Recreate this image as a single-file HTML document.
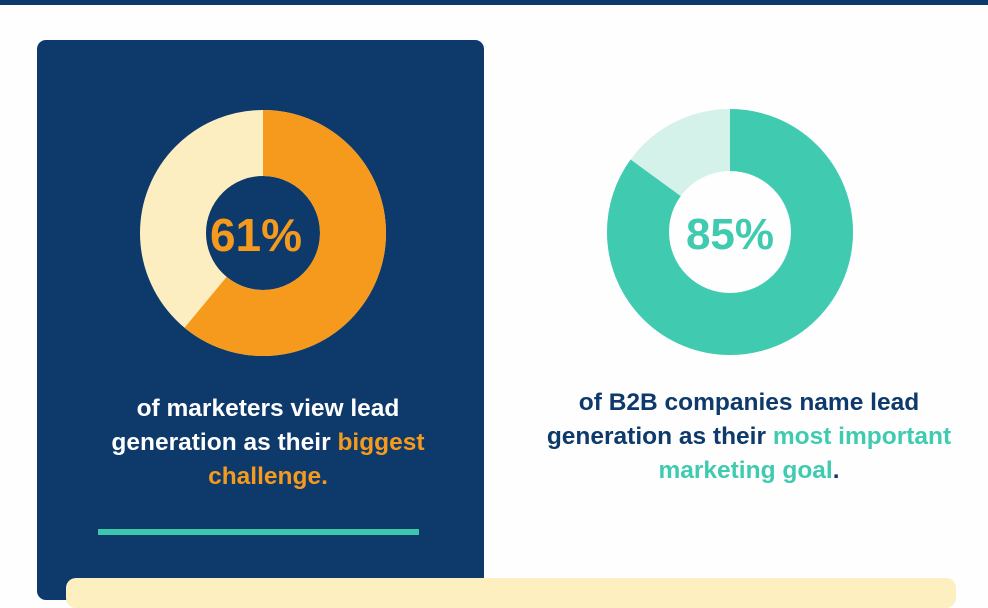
<!DOCTYPE html>
<html><head><style>
body{margin:0;width:988px;height:585px;overflow:hidden;background:#fefefe;position:relative;font-family:"Liberation Sans",sans-serif}
.top{position:absolute;left:0;top:0;width:988px;height:5px;background:#0e3a6b}
.card{position:absolute;left:37px;top:40px;width:447px;height:560px;background:#0d396b;border-radius:9px}
.line{position:absolute;left:98px;top:529px;width:321px;height:6px;background:#3cc7ad}
.yel{position:absolute;left:66px;top:578px;width:890px;height:30px;background:#fdefc0;border-radius:10px}
.t{position:absolute;text-align:center;font-size:24.5px;line-height:34px;font-weight:bold;letter-spacing:0}
</style></head><body>
<div class="top"></div>
<div class="card"></div>
<svg width="988" height="585" style="position:absolute;left:0;top:0">
<circle cx="263" cy="233" r="90" fill="none" stroke="#fdeec2" stroke-width="66"/>
<circle cx="263" cy="233" r="90" fill="none" stroke="#f59a1c" stroke-width="66" stroke-dasharray="344.9 1000" transform="rotate(-90 263 233)"/>
<text x="256" y="251" text-anchor="middle" font-family="Liberation Sans" font-weight="bold" font-size="46" fill="#f59a1c">61%</text>
<circle cx="730" cy="232" r="92" fill="none" stroke="#d4f1ea" stroke-width="62"/>
<circle cx="730" cy="232" r="92" fill="none" stroke="#40cbb0" stroke-width="62" stroke-dasharray="491.3 1000" transform="rotate(-90 730 232)"/>
<text x="730" y="249" text-anchor="middle" font-family="Liberation Sans" font-weight="bold" font-size="44" fill="#40cbb0">85%</text>
</svg>
<div class="t" style="left:18px;top:392px;width:500px;color:#fff">of marketers view lead<br>generation as their <span style="color:#f59a1c">biggest</span><br><span style="color:#f59a1c">challenge.</span></div>
<div class="t" style="left:499px;top:386px;width:500px;color:#0d396b">of B2B companies name lead<br>generation as their <span style="color:#40cbb0">most important</span><br><span style="color:#40cbb0">marketing goal</span>.</div>
<div class="line"></div>
<div class="yel"></div>
</body></html>
